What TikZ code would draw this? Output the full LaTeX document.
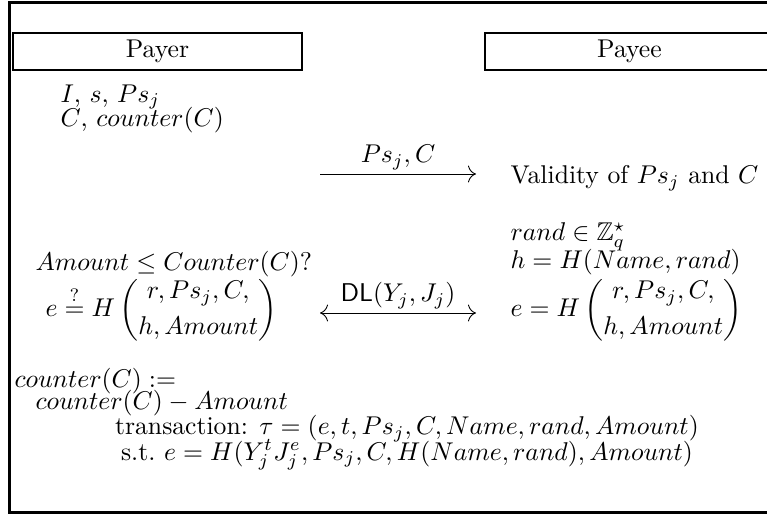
\documentclass[tikz,border=0pt]{standalone}
\usepackage{amsmath,amssymb}
\usetikzlibrary{arrows.meta,positioning}
\tikzset{
  party/.style={rectangle, draw, line width=1pt, minimum width=3.95cm,
                minimum height=0.506cm, inner sep=0pt},
  frameline/.style={line width=1pt},
  msg/.style={-{Computer Modern Rightarrow[length=1.1mm]}, line width=0.35pt},
  msgboth/.style={{Computer Modern Rightarrow[length=1.1mm]}-{Computer Modern Rightarrow[length=1.1mm]}, line width=0.35pt},
  txt/.style={anchor=west, inner sep=0pt},
  line/.style={inner sep=0pt},
  msglabel/.style={above=1.5pt, inner sep=0pt},
}

\begin{document}
\begin{tikzpicture}[x=0.01368cm, y=0.01368cm]
  \clip (0,0) rectangle (767,514);
  % frame
  \draw[frameline] (767,511.5) -- (9.5,511.5) -- (9.5,1.5) -- (767,1.5);
  % parties
  \node[party] (payer) at (157.5,462.5) {Payer};
  \node[party] (payee) at (629.5,462.5) {Payee};
  % first step
  \node[txt] (known) at (60,417) {$I$, $s$, $Ps_j$};
  \node[txt] (cnt) at (60,394) {$C$, $counter(C)$};
  \coordinate (m1a) at (320,340);
  \coordinate (m1b) at (476,340);
  \draw[msg] (m1a) -- (m1b) node[midway, msglabel] (m1lbl) {$Ps_j, C$};
  \node[txt] (valid) at (510,336) {Validity of $Ps_j$ and $C$};
  % second step
  \node[txt] (rnd) at (510,277) {$rand \in \mathbb{Z}_q^\star$};
  \node[txt] (hval) at (510,252) {$h = H(Name, rand)$};
  \node[txt] (eval) at (510,204) {$e = H\begin{pmatrix} r, Ps_j, C,\\[2pt] h, Amount\end{pmatrix}$};
  \node[txt] (chk) at (35,250) {$Amount \leq Counter(C)?$};
  \node[txt] (echk) at (45,204) {$e \stackrel{?}{=} H\begin{pmatrix} r, Ps_j, C,\\[2pt] h, Amount\end{pmatrix}$};
  \coordinate (m2a) at (320,201);
  \coordinate (m2b) at (476,201);
  \draw[msgboth] (m2a) -- (m2b) node[midway, msglabel] (m2lbl) {$\mathsf{DL}(Y_j, J_j)$};
  % update and transaction
  \node[txt] (upd) at (14,133) {$counter(C) :=$};
  \node[txt] (upd2) at (35,111) {$counter(C) - Amount$};
  \node[line] (tau) at (407,85) {transaction: $\tau = (e, t, Ps_j, C, Name, rand, Amount)$};
  \node[line] (st) at (407,59) {s.t.\ $e = H(Y_j^t J_j^e, Ps_j, C, H(Name, rand), Amount)$};
\end{tikzpicture}
\end{document}
